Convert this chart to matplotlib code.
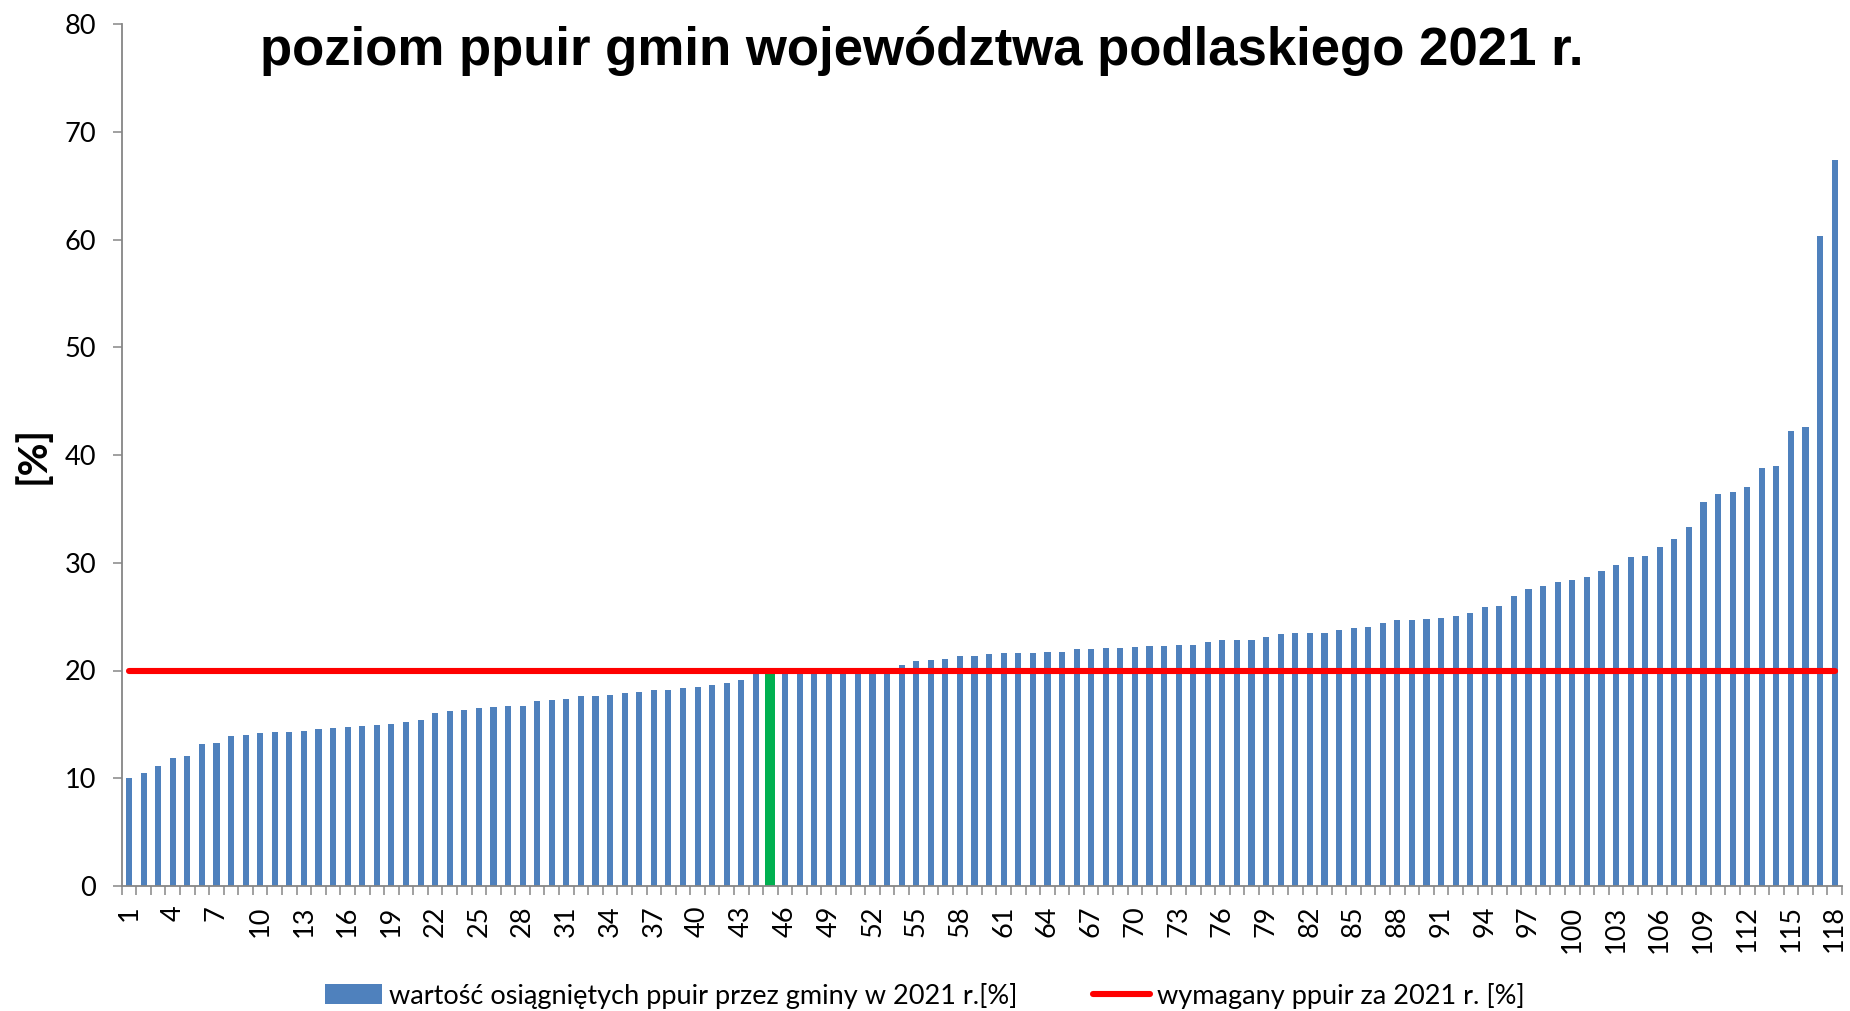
import matplotlib
matplotlib.use("Agg")
import matplotlib.pyplot as plt
import numpy as np
from matplotlib.patches import Patch
from matplotlib.lines import Line2D

# ---- data ----
gminy = list(range(1, 119))
ppuir_values = [
    10.0, 10.45, 11.1, 11.85, 12.1, 13.2, 13.3, 13.9, 14.0, 14.2,
    14.25, 14.25, 14.35, 14.55, 14.7, 14.8, 14.85, 14.95, 15.05, 15.2,
    15.45, 16.1, 16.25, 16.35, 16.55, 16.65, 16.7, 16.75, 17.2, 17.25,
    17.4, 17.6, 17.65, 17.75, 17.9, 18.05, 18.2, 18.2, 18.4, 18.45,
    18.7, 18.8, 19.1, 19.75, 20.0, 20.0, 20.0, 20.05, 20.1, 20.1,
    20.15, 20.2, 20.25, 20.55, 20.85, 20.95, 21.1, 21.3, 21.3, 21.5,
    21.65, 21.65, 21.65, 21.7, 21.7, 21.95, 21.95, 22.1, 22.1, 22.2,
    22.3, 22.3, 22.35, 22.4, 22.65, 22.8, 22.8, 22.85, 23.15, 23.4,
    23.45, 23.5, 23.5, 23.75, 23.9, 24.0, 24.45, 24.65, 24.7, 24.75,
    24.85, 25.1, 25.3, 25.85, 25.95, 26.9, 27.6, 27.8, 28.25, 28.4,
    28.65, 29.25, 29.75, 30.55, 30.6, 31.5, 32.25, 33.35, 35.6, 36.4,
    36.6, 37.0, 38.8, 39.0, 42.2, 42.6, 60.3, 67.4,
]
highlight_gmina = 45
required_level = 20.0

title = "poziom ppuir gmin województwa podlaskiego 2021 r."
ylabel = "[%]"
legend_bars = "wartość osiągniętych ppuir przez gminy w 2021 r.[%]"
legend_line = "wymagany ppuir za 2021 r. [%]"

# ---- style ----
blue = "#4F81BD"
green = "#00B050"
red = "#FF0000"
gray = "#868686"
tick_font = "Lato"
fs = 19.5

W, H = 1850, 1011
fig = plt.figure(figsize=(W / 100, H / 100), dpi=100)
ax = fig.add_axes([121.7 / W, 1 - 886 / H, (1842 - 121.7) / W, (886 - 24) / H])

x = np.array(gminy)
vals = np.array(ppuir_values)
colors = [green if g == highlight_gmina else blue for g in gminy]
widths = [0.69 if g == highlight_gmina else 0.42 for g in gminy]
ax.bar(x, vals, width=widths, color=colors, edgecolor="none", zorder=2)

ax.plot([x[0], x[-1]], [required_level, required_level], color=red,
        lw=4.4, solid_capstyle="round", zorder=3)

ax.set_xlim(0.5, len(gminy) + 0.5)
ax.set_ylim(0, 80)
ax.set_yticks(np.arange(0, 81, 10))

label_pos = gminy[::3]
ax.set_xticks(label_pos)
ax.set_xticklabels([str(v) for v in label_pos], rotation=90,
                   fontfamily=tick_font, fontsize=fs)
ax.set_xticks(np.arange(0.5, len(gminy) + 1, 1.0), minor=True)
ax.tick_params(axis="x", which="major", length=0, pad=14)
ax.tick_params(axis="x", which="minor", length=6.5, width=1.1, color=gray,
               direction="out")
ax.tick_params(axis="y", which="major", length=6.5, width=1.1, color=gray,
               direction="out", pad=12)
for lbl in ax.get_yticklabels():
    lbl.set_fontfamily(tick_font)
    lbl.set_fontsize(fs)

for s in ["top", "right"]:
    ax.spines[s].set_visible(False)
for s in ["left", "bottom"]:
    ax.spines[s].set_color(gray)
    ax.spines[s].set_linewidth(1.3)

fig.text(922 / W, 1 - 65 / H, title, ha="center", va="baseline",
         fontfamily="Liberation Sans", fontweight="bold", fontsize=38)
fig.text(33 / W, 1 - 455 / H, ylabel, rotation=90, ha="center", va="center",
         fontfamily=tick_font, fontweight="bold", fontsize=29)

handles = [Patch(facecolor=blue, edgecolor="none"),
           Line2D([0], [0], color=red, lw=4.4, solid_capstyle="round")]
fig.legend(handles, [legend_bars, legend_line], loc="center",
           bbox_to_anchor=(0.5, 0.015), ncol=2, frameon=False,
           prop={"family": tick_font, "size": fs},
           handlelength=2.1, handleheight=0.75, handletextpad=0.25,
           columnspacing=2.8, borderaxespad=0)

fig.savefig("out.png", dpi=100, facecolor="white")
